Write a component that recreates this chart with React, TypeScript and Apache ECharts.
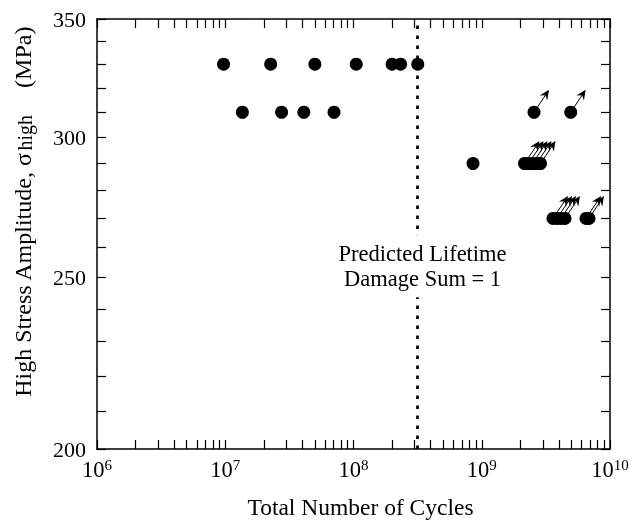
import React, { useEffect, useRef } from "react";
import * as echarts from "echarts";

// Fatigue data: cycles (N) and stress amplitude (MPa)
const failure330N = [9.7e6, 2.26e7, 5.0e7, 1.05e8, 2.0e8, 2.33e8, 3.17e8];
const failure310N = [1.36e7, 2.75e7, 4.1e7, 7.05e7];
const failure290N = [8.55e8];
const runout310N = [2.556e9, 4.94e9];
const runout290N = [2.155e9, 2.315e9, 2.487e9, 2.673e9, 2.872e9];
const runout270N = [3.594e9, 3.861e9, 4.149e9, 4.458e9, 6.5e9, 6.86e9];
const predictedLifetimeN = 3.16e8;
const annotationStress = 253.7;

const xDecades = [6, 7, 8, 9, 10];
const yTickStress = [200, 210, 220, 230, 240, 250, 260, 270, 280, 290, 300, 310, 320, 330, 340, 350];
const yLabelStress = [200, 250, 300, 350];

const FONT = "'Liberation Serif', 'DejaVu Serif', serif";
const lg = (v: number) => Math.log10(v);

const xMinor: number[] = [];
for (let d = 6; d < 10; d++) for (let k = 1; k <= 9; k++) xMinor.push(lg(k * Math.pow(10, d)));
xMinor.push(10);

const pts = (ns: number[], s: number) => ns.map((n) => [lg(n), lg(s)]);

export default function App() {
  const ref = useRef<HTMLDivElement>(null);
  useEffect(() => {
    if (!ref.current) return;
    const chart = echarts.init(ref.current, null, { renderer: "svg" });
    const axisLine = { show: true, onZero: false, lineStyle: { color: "#000", width: 1.5 } };
    const xTick = { show: true, inside: true, length: 9, customValues: xMinor, lineStyle: { color: "#000", width: 1.2 } };
    const yTick = { show: true, inside: true, length: 9, customValues: yTickStress.map(lg), lineStyle: { color: "#000", width: 1.2 } };
    const failures = [
      ...pts(failure330N, 330),
      ...pts(failure310N, 310),
      ...pts(failure290N, 290),
    ];
    const runouts = [
      ...pts(runout310N, 310),
      ...pts(runout290N, 290),
      ...pts(runout270N, 270),
    ];
    const option: any = {
      animation: false,
      textStyle: { fontFamily: FONT, color: "#000" },
      grid: { left: 97, right: 23, top: 19, bottom: 62, containLabel: false },
      xAxis: [
        {
          type: "value",
          position: "bottom",
          min: 6,
          max: 10,
          interval: 1,
          axisLine,
          axisTick: xTick,
          splitLine: { show: false },
          axisLabel: {
            margin: 8,
            customValues: xDecades,
            formatter: (v: number) => `{b|10}{s|${Math.round(v)}}`,
            rich: {
              b: { fontSize: 22.5, fontFamily: FONT, color: "#000", verticalAlign: "bottom", lineHeight: 24 },
              s: { fontSize: 15, fontFamily: FONT, color: "#000", verticalAlign: "top", lineHeight: 24 },
            },
          },
          name: "Total Number of Cycles",
          nameLocation: "middle",
          nameGap: 46,
          nameTextStyle: { fontSize: 23.5, fontFamily: FONT, color: "#000", padding: [0, 0, 0, 14] },
        },
        {
          type: "value",
          position: "top",
          min: 6,
          max: 10,
          interval: 1,
          axisLine,
          axisTick: xTick,
          axisLabel: { show: false },
          splitLine: { show: false },
        },
      ],
      yAxis: [
        {
          type: "value",
          position: "left",
          min: lg(200),
          max: lg(350),
          axisLine,
          axisTick: yTick,
          splitLine: { show: false },
          axisLabel: {
            margin: 11,
            customValues: yLabelStress.map(lg),
            formatter: (v: number) => String(Math.round(Math.pow(10, v))),
            fontSize: 22,
            fontFamily: FONT,
            color: "#000",
          },
        },
        {
          type: "value",
          position: "right",
          min: lg(200),
          max: lg(350),
          axisLine,
          axisTick: yTick,
          axisLabel: { show: false },
          splitLine: { show: false },
        },
      ],
      graphic: [
        {
          type: "text",
          x: 21,
          y: 212,
          rotation: Math.PI / 2,
          style: {
            text: "{n|High Stress Amplitude, σ}{sub|high}{m|(MPa)}",
            align: "center",
            verticalAlign: "middle",
            rich: {
              n: { fontSize: 24, fontFamily: FONT, fill: "#000", verticalAlign: "bottom", lineHeight: 28 },
              sub: { fontSize: 20, fontFamily: FONT, fill: "#000", verticalAlign: "bottom", lineHeight: 14, padding: [0, 0, 0, 2] },
              m: { fontSize: 24, fontFamily: FONT, fill: "#000", verticalAlign: "bottom", lineHeight: 28, padding: [0, 0, 0, 27] },
            },
          },
        },
      ],
      series: [
        {
          type: "line",
          data: [],
          silent: true,
          z: 1,
          markLine: {
            silent: true,
            z: 1,
            symbol: ["none", "none"],
            label: { show: false },
            lineStyle: { color: "#000", width: 2.7, type: [3.5, 6.5] },
            data: [{ xAxis: lg(predictedLifetimeN) }],
          },
        },
        {
          type: "custom",
          silent: true,
          z: 3,
          data: runouts,
          renderItem: (params: any, api: any) => {
            const p = api.coord([api.value(0), api.value(1)]);
            const dx = 15;
            const dy = -22.5;
            const len = Math.sqrt(dx * dx + dy * dy);
            const ux = dx / len;
            const uy = dy / len;
            const nx = -uy;
            const ny = ux;
            const tx = p[0] + dx;
            const ty = p[1] + dy;
            const hl = 10;
            const hw = 4.5;
            const bx = tx - ux * hl;
            const by = ty - uy * hl;
            return {
              type: "group",
              children: [
                {
                  type: "line",
                  shape: { x1: p[0], y1: p[1], x2: tx - ux * 5, y2: ty - uy * 5 },
                  style: { stroke: "#000", lineWidth: 1 },
                },
                {
                  type: "polygon",
                  shape: {
                    points: [
                      [tx, ty],
                      [bx + nx * hw, by + ny * hw],
                      [tx - ux * 6.5, ty - uy * 6.5],
                      [bx - nx * hw, by - ny * hw],
                    ],
                  },
                  style: { fill: "#000" },
                },
              ],
            };
          },
        },
        {
          type: "scatter",
          silent: true,
          z: 4,
          symbol: "circle",
          symbolSize: 13,
          itemStyle: { color: "#000", opacity: 1 },
          data: [...failures, ...runouts],
        },
        {
          type: "scatter",
          silent: true,
          z: 10,
          symbolSize: 1,
          itemStyle: { color: "#fff", opacity: 1 },
          data: [[lg(predictedLifetimeN), lg(annotationStress)]],
          label: {
            show: true,
            position: "inside",
            offset: [5, 0],
            formatter: "Predicted Lifetime\nDamage Sum = 1",
            fontSize: 22.5,
            lineHeight: 25,
            fontFamily: FONT,
            color: "#000",
            backgroundColor: "#fff",
            padding: [6, 4],
            align: "center",
          },
        },
      ],
    };
    chart.setOption(option);
    return () => chart.dispose();
  }, []);
  return <div ref={ref} style={{ position: "fixed", left: 0, top: 0, width: 633, height: 524 }} />;
}
